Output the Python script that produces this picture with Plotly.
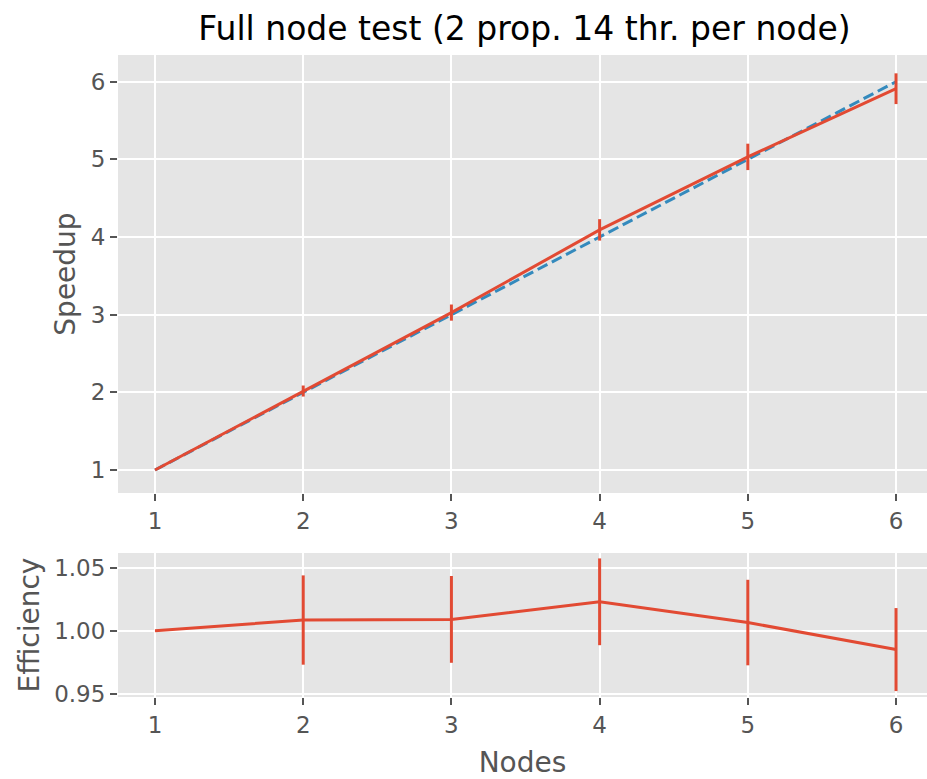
import plotly.graph_objects as go
from plotly.subplots import make_subplots

# Scaling measurements per node count
nodes = [1, 2, 3, 4, 5, 6]
ideal_speedup = [1, 2, 3, 4, 5, 6]
speedup = [1.000, 2.017, 3.027, 4.092, 5.032, 5.910]
speedup_err = [0.0, 0.071, 0.104, 0.138, 0.170, 0.198]
efficiency = [1.000, 1.0085, 1.009, 1.023, 1.0065, 0.985]
efficiency_err = [0.0, 0.0355, 0.0345, 0.0345, 0.034, 0.033]

RED = "#E24A33"
BLUE = "#348ABD"
BG = "#E5E5E5"
GRAY = "#555555"
FONT = "DejaVu Sans"

W, H = 927, 779
L, R, T, B = 118, 0, 55, 82
plot_h = H - T - B

fig = make_subplots(rows=2, cols=1, shared_xaxes=False)

fig.add_trace(go.Scatter(
    x=nodes, y=ideal_speedup, mode="lines",
    line=dict(color=BLUE, width=3, dash="11px,5px"),
    showlegend=False, hoverinfo="skip"), row=1, col=1)

fig.add_trace(go.Scatter(
    x=nodes, y=speedup, mode="lines",
    line=dict(color=RED, width=3),
    error_y=dict(type="data", array=speedup_err, visible=True,
                 color=RED, thickness=3, width=0),
    showlegend=False), row=1, col=1)

fig.add_trace(go.Scatter(
    x=nodes, y=efficiency, mode="lines",
    line=dict(color=RED, width=3),
    error_y=dict(type="data", array=efficiency_err, visible=True,
                 color=RED, thickness=3, width=0),
    showlegend=False), row=2, col=1)

# Panel placement (pixel edges converted to paper fractions)
top_dom = [(H - B - 493) / plot_h, 1.0]
bot_dom = [0.0, (H - B - 553) / plot_h]

axis_common = dict(
    showgrid=True, gridcolor="white", gridwidth=2,
    zeroline=False, showline=False,
    ticks="outside", ticklen=7, tickwidth=1.5, tickcolor=GRAY,
    tickfont=dict(family=FONT, size=23, color=GRAY),
)

xrange = [0.7503, 6.209]

fig.update_layout(
    width=W, height=H,
    margin=dict(l=L, r=R, t=T, b=B),
    paper_bgcolor="white",
    plot_bgcolor=BG,
    title=dict(
        text="Full node test (2 prop. 14 thr. per node)",
        font=dict(family=FONT, size=33, color="black"),
        x=(524.5 - L) / (W - L - R), xref="paper", xanchor="center",
        y=1 - 28 / H, yref="container", yanchor="middle",
    ),
    xaxis=dict(axis_common, domain=[0, 1], range=xrange,
               tickvals=nodes, ticktext=[str(n) for n in nodes]),
    yaxis=dict(axis_common, domain=top_dom, range=[0.704, 6.344],
               tickvals=[1, 2, 3, 4, 5, 6],
               title=dict(text="Speedup", standoff=6,
                          font=dict(family=FONT, size=28, color=GRAY))),
    xaxis2=dict(axis_common, domain=[0, 1], range=xrange,
                tickvals=nodes, ticktext=[str(n) for n in nodes],
                title=dict(text="Nodes", standoff=16,
                           font=dict(family=FONT, size=28, color=GRAY))),
    yaxis2=dict(axis_common, domain=bot_dom, range=[0.9473, 1.0618],
                tickvals=[0.95, 1.00, 1.05],
                ticktext=["0.95", "1.00", "1.05"],
                title=dict(text="Efficiency", standoff=6,
                           font=dict(family=FONT, size=28, color=GRAY))),
)

fig.write_html("out.html")
